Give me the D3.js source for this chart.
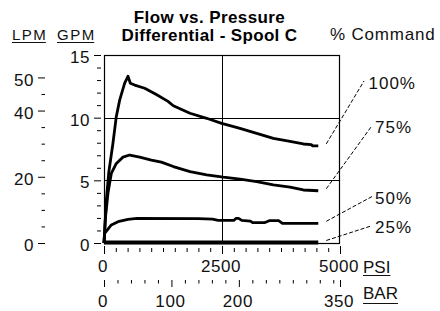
<!DOCTYPE html>
<html><head><meta charset="utf-8">
<script src="https://cdn.jsdelivr.net/npm/d3@7"></script>
<style>
html,body{margin:0;padding:0;background:#fff;}
svg{display:block;font-family:"Liberation Sans",Arial,sans-serif;}
.tk text{font-size:17px;fill:#111;letter-spacing:0.6px;}
.tk line{stroke:#000;stroke-width:1;}
</style></head>
<body>
<svg id="c" width="440" height="311"></svg>
<script>
// ---- data ----
const titleLines = ["Flow vs. Pressure", "Differential - Spool C"];
const seriesNames = ["100%", "75%", "50%", "25%"];
const psi100 = [0,15,49,100,191,261,332,438,508,558,650,862,1109,1356,1469,1822,2175,2493,2881,3235,3588,3941,4223,4390,4420,4540];
const gpm100 = [0,1,3.4,5.6,8.0,10.1,11.4,12.75,13.3,12.75,12.6,12.35,11.85,11.3,10.95,10.35,9.95,9.55,9.15,8.75,8.35,8.1,7.9,7.85,7.75,7.75];
const psi75 = [0,30,85,155,261,403,544,756,1003,1215,1469,1822,2175,2528,2881,3235,3588,3941,4223,4540];
const gpm75 = [0,2,4.0,5.55,6.35,6.85,7.02,6.85,6.62,6.45,6.1,5.7,5.43,5.25,5.1,4.9,4.63,4.45,4.23,4.17];
const psi50 = [0,14,155,297,508,700,2000,2300,2420,2750,2800,2850,2920,3100,3150,3400,3500,3700,3780,4540];
const gpm50 = [0,0.77,1.44,1.7,1.89,1.97,1.95,1.9,1.8,1.8,1.97,1.97,1.8,1.75,1.62,1.62,1.78,1.78,1.57,1.57];
const psi25 = [0,4540];
const gpm25 = [0.04,0.04];
const gpmMajor = [0,5,10,15];
const gpmMinor = [1,2,3,4,6,7,8,9,11,12,13,14];
const lpmMajor = [0,20,40,50];
const lpmMinor = [5,10,15,25,30,35,45];
const psiMajor = [0,2500,5000];
const psiMinor = d3.range(250,5000,250).filter(v=>v!==2500);
const barMajor = [0,100,200,350];
const barMinor = [20,40,60,80,120,140,160,180,220,240,260,280,300,320,340];
const gridPsi = [2500];
const gridGpm = [5,10];
const LPM_PER_GPM = 3.785;

// ---- layout ----
const svg = d3.select("#c");
const x = d3.scaleLinear().domain([0,5000]).range([104,340]);
const xBar = d3.scaleLinear().domain([0,350]).range([104,340]);
const y = d3.scaleLinear().domain([0,15]).range([243,55]);
const yL = d3.scaleLinear().domain([0,15*LPM_PER_GPM]).range([243,55]);

// gridlines
svg.append("g").selectAll("line").data(gridGpm).join("line")
  .attr("x1",x(0)).attr("x2",x(5000)).attr("y1",d=>Math.round(y(d))+0.5).attr("y2",d=>Math.round(y(d))+0.5)
  .attr("stroke","#000").attr("stroke-width",1);
svg.append("g").selectAll("line").data(gridPsi).join("line")
  .attr("x1",d=>Math.round(x(d))+0.5).attr("x2",d=>Math.round(x(d))+0.5).attr("y1",y(15)).attr("y2",y(0))
  .attr("stroke","#000").attr("stroke-width",1);

// plot frame
svg.append("rect").attr("x",x(0)+0.5).attr("y",y(15)+0.5)
  .attr("width",x(5000)-x(0)-1).attr("height",y(0)-y(15))
  .attr("fill","none").attr("stroke","#000").attr("stroke-width",1.2);

function axisG(tx,ty,axis,noText){
  const g = svg.append("g").attr("class","tk").attr("transform",`translate(${tx},${ty})`).call(axis);
  g.select(".domain").remove();
  if(noText) g.selectAll("text").remove();
  return g;
}
// GPM axis
const gG = axisG(101,0,d3.axisLeft(y).tickValues(gpmMajor).tickSize(7).tickPadding(4).tickFormat(d3.format("d")));
gG.selectAll("text").attr("dy","0.44em");
axisG(101,0,d3.axisLeft(y).tickValues(gpmMinor).tickSize(4),true);
// LPM axis
const gL = axisG(45,0,d3.axisLeft(yL).tickValues(lpmMajor).tickSize(7).tickPadding(4).tickFormat(d3.format("d")));
gL.selectAll("text").attr("dy","0.46em");
axisG(45,0,d3.axisLeft(yL).tickValues(lpmMinor).tickSize(3.5),true);
// PSI axis
const gP = axisG(0,246,d3.axisBottom(x).tickValues(psiMajor).tickSize(8).tickPadding(6.4).tickFormat(d3.format("d")));
gP.selectAll("text").attr("dx","-1.5");
axisG(0,248,d3.axisBottom(x).tickValues(psiMinor).tickSize(4),true);
// BAR axis
const gB = axisG(0,280,d3.axisBottom(xBar).tickValues(barMajor).tickSize(7).tickPadding(8.4).tickFormat(d3.format("d")));
gB.selectAll("text").attr("dx","-1.5");
axisG(0,280,d3.axisBottom(xBar).tickValues(barMinor).tickSize(3.5),true);

// series
const line = d3.line().x(d=>x(d[0])).y(d=>y(d[1]));
const series = [
  {name:seriesNames[0], psi:psi100, gpm:gpm100, w:2.8},
  {name:seriesNames[1], psi:psi75, gpm:gpm75, w:2.8},
  {name:seriesNames[2], psi:psi50, gpm:gpm50, w:2.8},
  {name:seriesNames[3], psi:psi25, gpm:gpm25, w:4.2},
];
svg.append("g").selectAll("path").data(series).join("path")
  .attr("d",s=>line(s.psi.map((p,i)=>[p,s.gpm[i]])))
  .attr("fill","none").attr("stroke","#000").attr("stroke-width",s=>s.w)
  .attr("stroke-linejoin","round").attr("stroke-linecap","butt");

// leaders + labels
const labelPos = [{lx:364,ly:81,tx:368.5,ty:89},{lx:371,ly:127,tx:375,ty:132.5},{lx:373,ly:196,tx:375,ty:204},{lx:371,ly:226,tx:375,ty:233}];
series.forEach((s,i)=>{
  const n = s.psi.length-1;
  const sx = x(s.psi[n])+8, sy = y(s.gpm[n])-2;
  const p = labelPos[i];
  svg.append("line").attr("x1",sx).attr("y1",sy).attr("x2",p.lx).attr("y2",p.ly)
    .attr("stroke","#000").attr("stroke-width",1).attr("stroke-dasharray","4,2");
  svg.append("text").attr("x",p.tx).attr("y",p.ty).text(s.name)
    .attr("font-size",17).attr("letter-spacing","1px").attr("fill","#111");
});

// title
svg.append("text").attr("x",209.5).attr("y",22.5).attr("text-anchor","middle")
  .attr("font-size",17).attr("font-weight","bold").attr("letter-spacing","0.4px").text(titleLines[0]);
svg.append("text").attr("x",209.5).attr("y",40.5).attr("text-anchor","middle")
  .attr("font-size",17).attr("font-weight","bold").attr("letter-spacing","0.35px").text(titleLines[1]);

svg.append("text").attr("x",330).attr("y",40).attr("font-size",17).attr("letter-spacing","0.8px")
  .attr("fill","#111").text("% Command");

// unit labels with underline
function unit(txt,x0,yb,ul,fs,ls){
  const t = svg.append("text").attr("x",x0).attr("y",yb).attr("font-size",fs).attr("letter-spacing",ls+"px")
    .attr("fill","#111").text(txt);
  const w = t.node().getComputedTextLength()-ls;
  svg.append("line").attr("x1",x0).attr("x2",x0+w).attr("y1",ul).attr("y2",ul).attr("stroke","#111").attr("stroke-width",1);
}
unit("LPM",12,40,42.5,15,1.5);
unit("GPM",57,40,42.5,15,1.5);
unit("PSI",363,272.5,275.5,17,0);
unit("BAR",363,299.3,303.5,17,0);
</script>
</body></html>
